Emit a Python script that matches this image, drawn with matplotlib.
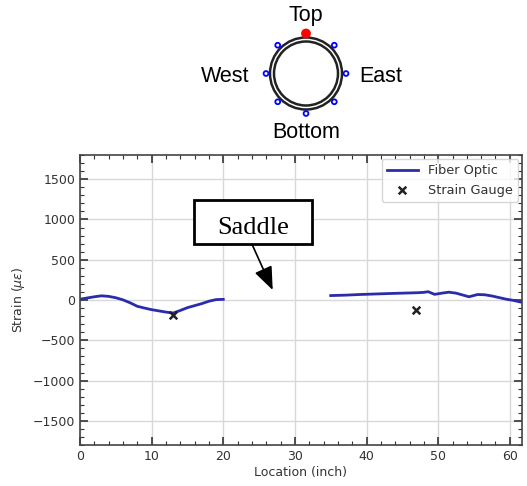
import matplotlib
matplotlib.use("Agg")
import matplotlib.pyplot as plt
from matplotlib.patches import Circle, Rectangle
from matplotlib.ticker import MultipleLocator
import numpy as np

# ---- data ----
fo_left_x = [0, 1, 2, 3, 4, 5, 6, 7, 8, 9, 10, 11, 12, 13, 14, 15, 16, 17, 18, 19, 20]
fo_left_y = [10, 25, 40, 52, 45, 28, 2, -35, -78, -100, -120, -135, -150, -162, -130, -95, -70, -45, -15, 5, 8]
fo_right_x = [35, 37, 39, 41, 43, 45, 47, 48, 48.6, 49.5, 50.5, 51.5, 52.5, 53.5, 54.3, 55.5, 56.5, 57.5, 58.5, 59.5, 60.5, 61.5, 62]
fo_right_y = [55, 60, 68, 74, 80, 85, 90, 95, 103, 70, 85, 97, 85, 60, 40, 68, 65, 50, 30, 10, -5, -25, -35]
sg_x = [13.0, 46.9]
sg_y = [-180, -124]
xticks = [0, 10, 20, 30, 40, 50, 60]
yticks = [-1500, -1000, -500, 0, 500, 1000, 1500]
positions = ["Top", "West", "East", "Bottom"]

W, H = 527, 486
fig = plt.figure(figsize=(W / 100, H / 100), dpi=100)

# ---- main axes ----
ax = fig.add_axes([80 / W, 1 - 445 / H, 442 / W, 290 / H])
line_color = "#2b2bab"
ax.plot(fo_left_x, fo_left_y, color=line_color, lw=2, label="Fiber Optic")
ax.plot(fo_right_x, fo_right_y, color=line_color, lw=2)
ax.scatter(sg_x, sg_y, marker="x", color="#222222", s=30, linewidths=1.8,
           label="Strain Gauge", zorder=5)

ax.set_xlim(0, 61.7)
ax.set_ylim(-1800, 1800)
ax.set_xticks(xticks)
ax.set_yticks(yticks)
ax.xaxis.set_minor_locator(MultipleLocator(2))
ax.yaxis.set_minor_locator(MultipleLocator(100))
ax.tick_params(which="both", direction="in", top=True, right=True,
               labelsize=9, colors="#333333")
ax.tick_params(which="major", length=6, width=1.2)
ax.tick_params(which="minor", length=3, width=0.8)
ax.grid(True, which="major", color="#d8d8d8", lw=1)
for s in ax.spines.values():
    s.set_color("#444444")
    s.set_linewidth(1.2)
ax.set_xlabel("Location (inch)", fontsize=9, color="#333333", labelpad=2)
ax.set_ylabel(r"Strain ($\mu\varepsilon$)", fontsize=9, color="#333333")

leg = ax.legend(loc="upper right", fontsize=9.3, frameon=True, borderaxespad=0.3,
                handlelength=2.4)
leg.get_frame().set_edgecolor("#cccccc")
for t in leg.get_texts():
    t.set_color("#333333")

# Saddle callout
ax.add_patch(Rectangle((15.9, 694), 16.5, 545, fc="white", ec="black", lw=2, zorder=6))
ax.text(24.2, 890, "Saddle", fontsize=19, family="Liberation Serif",
        ha="center", va="center", zorder=7)
ax.annotate("", xy=(26.9, 124), xytext=(24.0, 694),
            arrowprops=dict(arrowstyle="-|>,head_length=0.75,head_width=0.3",
                            mutation_scale=19, color="black", lw=1.2,
                            shrinkA=0, shrinkB=0),
            zorder=6)

# ---- cross-section diagram ----
ax2 = fig.add_axes([0, 1 - 150 / H, 1, 150 / H])
ax2.set_xlim(0, W)
ax2.set_ylim(150, 0)
ax2.axis("off")
cx, cy = 306, 73.5
ax2.add_patch(Circle((cx, cy), 36, fill=False, ec="#222222", lw=1.8))
ax2.add_patch(Circle((cx, cy), 32, fill=False, ec="#222222", lw=1.8))
for ang in range(0, 360, 45):
    a = np.deg2rad(ang)
    px, py = cx + 40 * np.sin(a), cy - 40 * np.cos(a)
    if ang == 0:
        ax2.add_patch(Circle((px, py), 4.2, fc="red", ec="red"))
    else:
        ax2.add_patch(Circle((px, py), 2.4, fc="white", ec="blue", lw=1.3))
fs = 15.5
ax2.text(cx, 15, positions[0], fontsize=fs, family="Liberation Sans", ha="center", va="center")
ax2.text(225, 76, positions[1], fontsize=fs, family="Liberation Sans", ha="center", va="center")
ax2.text(381, 76, positions[2], fontsize=fs, family="Liberation Sans", ha="center", va="center")
ax2.text(cx, 132, positions[3], fontsize=fs, family="Liberation Sans", ha="center", va="center")

fig.savefig("out.png", dpi=100)
